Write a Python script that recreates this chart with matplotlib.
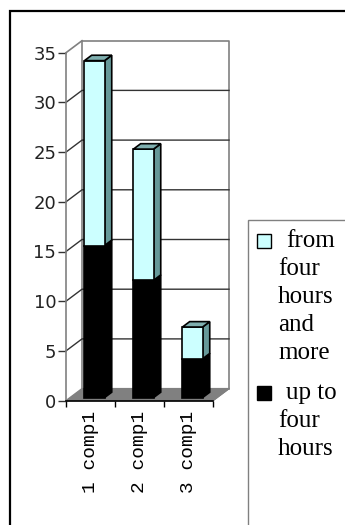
import textwrap
import matplotlib.pyplot as plt
from matplotlib.patches import Polygon, Rectangle

categories = ['1 comp1', '2 comp1', '3 comp1']
up_to_four = [15.3, 11.8, 3.9]
four_and_more = [18.6, 13.2, 3.2]
series_names = ['from four hours and more', 'up to four hours']
y_ticks = [0, 5, 10, 15, 20, 25, 30, 35]

W, H = 345, 525
fig = plt.figure(figsize=(W / 100, H / 100), dpi=100)
ax = fig.add_axes([66 / W, (H - 400.6) / H, 147 / W, 347.9 / H])
ax.set_xlim(0, len(categories))
ax.set_ylim(0, 35)

# depth of the fake 3-D box, in data units
dx, dy = 16 / 49, 12 / 9.94
bar_w = 0.41
f_front, f_back = 0.25, 0.7
grid_col = '#333333'
wall_col = '#808080'

# floor
n = len(categories)
ax.add_patch(Polygon([(0, 0), (dx, dy), (n + dx, dy), (n, 0)], fc=wall_col,
                     ec=wall_col, lw=1, clip_on=False, zorder=1))
# back wall outline and gridlines
ax.plot([dx, dx, n + dx, n + dx], [dy, 35 + dy, 35 + dy, dy], color=wall_col,
        lw=1.2, clip_on=False, zorder=2)
ax.plot([n, n + dx], [0, dy], color=wall_col, lw=1, clip_on=False, zorder=2)
ax.plot([0, dx], [35, 35 + dy], color=wall_col, lw=1.2, clip_on=False, zorder=2)
for v in y_ticks[1:-1]:
    ax.plot([0, dx, n + dx], [v, v + dy, v + dy], color=grid_col, lw=1,
            clip_on=False, zorder=2)


def segment(i, y0, y1, front, side, top=None):
    xl = i + 0.5 - bar_w / 2
    xr = xl + bar_w
    ax_, ay_ = f_front * dx, f_front * dy
    bx_, by_ = f_back * dx, f_back * dy
    ax.add_patch(Polygon([(xr + ax_, y0 + ay_), (xr + bx_, y0 + by_),
                          (xr + bx_, y1 + by_), (xr + ax_, y1 + ay_)],
                         fc=side, ec='black', lw=1.2, clip_on=False, zorder=4))
    ax.add_patch(Rectangle((xl + ax_, y0 + ay_), bar_w, y1 - y0, fc=front,
                           ec='black', lw=1.2, clip_on=False, zorder=5))
    if top:
        ax.add_patch(Polygon([(xl + ax_, y1 + ay_), (xr + ax_, y1 + ay_),
                              (xr + bx_, y1 + by_), (xl + bx_, y1 + by_)],
                             fc=top, ec='black', lw=1.2, clip_on=False, zorder=5))


for i in range(n):
    lo = up_to_four[i]
    hi = lo + four_and_more[i]
    segment(i, 0, lo, 'black', 'black')
    segment(i, lo, hi, '#CCFFFF', '#669999', '#7FAFAF')

# axes styling
for s in ['top', 'right']:
    ax.spines[s].set_visible(False)
ax.spines['left'].set_color(wall_col)
ax.spines['left'].set_linewidth(1.2)
ax.spines['bottom'].set_color('black')
ax.spines['bottom'].set_linewidth(1.2)
ax.spines['left'].set_zorder(3)
ax.spines['bottom'].set_zorder(6)

ax.set_yticks(y_ticks)
ax.tick_params(axis='y', direction='out', length=6, width=1, color='#333333',
               pad=1, labelsize=13, labelcolor='#222222')
for t in ax.get_yticklabels():
    t.set_fontfamily('DejaVu Sans')

ax.set_xticks(range(n + 1))
ax.set_xticklabels([''] * (n + 1))
ax.set_xticks([i + 0.5 for i in range(n)], minor=True)
ax.set_xticklabels(categories, minor=True, rotation=90,
                   fontfamily='Liberation Mono', fontsize=14)
ax.tick_params(axis='x', which='major', direction='out', length=4, width=1,
               color='black')
ax.tick_params(axis='x', which='minor', length=0, pad=7)
ax.patch.set_visible(False)

# outer frame, running off the right and bottom edges
fig.add_artist(Rectangle((10 / W, -1), 3, 2 - 11 / H,
                         transform=fig.transFigure, fill=False, ec='black', lw=1.6))

# legend, drawn by hand so the names wrap like the original
fig.add_artist(Rectangle((248 / W, -1), 3, 2 - 220 / H,
                         transform=fig.transFigure, fill=False, ec=wall_col, lw=1))
legend_cols = ['#CCFFFF', 'black']
y = 241
for name, col in zip(series_names, legend_cols):
    fig.add_artist(Rectangle((257 / W, 1 - (y + 7) / H), 14 / W, 14 / H,
                             transform=fig.transFigure, fc=col, ec='black', lw=1))
    for k, line in enumerate(textwrap.wrap(name, 5)):
        x = 286 if k == 0 else 278
        fig.text(x / W, 1 - y / H, line, fontfamily='Liberation Serif',
                 fontsize=18, va='center', ha='left', color='black')
        y += 28
    y += 12

fig.savefig('out.png', dpi=100)
